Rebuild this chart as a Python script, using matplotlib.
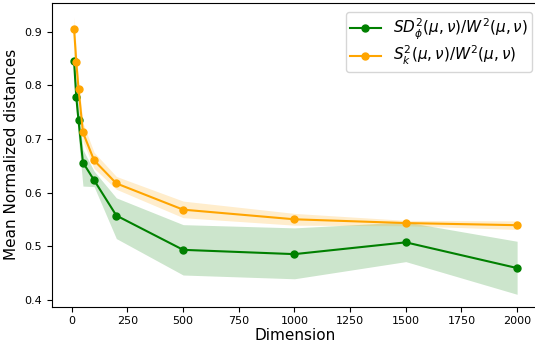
import matplotlib
matplotlib.use('Agg')

import numpy as np
import matplotlib.pyplot as plt

# ----------------------------
# data
# ----------------------------
dims = [10, 20, 30, 50, 100, 200, 500, 1000, 1500, 2000]

sd_mean = [0.845, 0.778, 0.735, 0.656, 0.623, 0.557, 0.493, 0.485, 0.507, 0.459]
sd_low = [0.820, 0.750, 0.700, 0.612, 0.611, 0.514, 0.446, 0.439, 0.471, 0.410]
sd_high = [0.870, 0.805, 0.765, 0.680, 0.640, 0.590, 0.540, 0.534, 0.545, 0.509]

sk_mean = [0.906, 0.843, 0.794, 0.712, 0.660, 0.617, 0.568, 0.550, 0.543, 0.539]
sk_low = [0.880, 0.820, 0.778, 0.695, 0.645, 0.606, 0.553, 0.539, 0.538, 0.531]
sk_high = [0.928, 0.866, 0.810, 0.730, 0.675, 0.630, 0.584, 0.561, 0.548, 0.547]

labels = [r"$SD_{\phi}^2(\mu,\nu)/W^2(\mu,\nu)$",
          r"$S_k^2(\mu,\nu)/W^2(\mu,\nu)$"]

# ----------------------------
# plot
# ----------------------------
fig, ax = plt.subplots(figsize=(5.35, 3.43), dpi=100)
# right edge of the axes sits just past the image border, as in the reference
fig.subplots_adjust(left=0.097, right=1.008, top=0.991, bottom=0.106)
ax.spines["right"].set_visible(False)

ax.plot(dims, sd_mean, "-o", color="green", markersize=5, linewidth=1.5, label=labels[0])
ax.fill_between(dims, sd_low, sd_high, color="green", alpha=0.2, linewidth=0)

ax.plot(dims, sk_mean, "-o", color="orange", markersize=5, linewidth=1.5, label=labels[1])
ax.fill_between(dims, sk_low, sk_high, color="orange", alpha=0.2, linewidth=0)

ax.set_xlim(-89.5, 2099.5)
ax.set_ylim(0.387, 0.9535)
ax.set_xticks([0, 250, 500, 750, 1000, 1250, 1500, 1750, 2000])
ax.set_yticks([0.4, 0.5, 0.6, 0.7, 0.8, 0.9])
ax.tick_params(labelsize=8)

ax.set_xlabel("Dimension", fontsize=11, labelpad=1)
ax.set_ylabel("Mean Normalized distances", fontsize=11, labelpad=4)

ax.legend(loc="upper right", fontsize=11, labelspacing=0.15, borderpad=0.3,
          borderaxespad=0, bbox_to_anchor=(0.986, 0.970))

plt.savefig("out.png", dpi=100)
